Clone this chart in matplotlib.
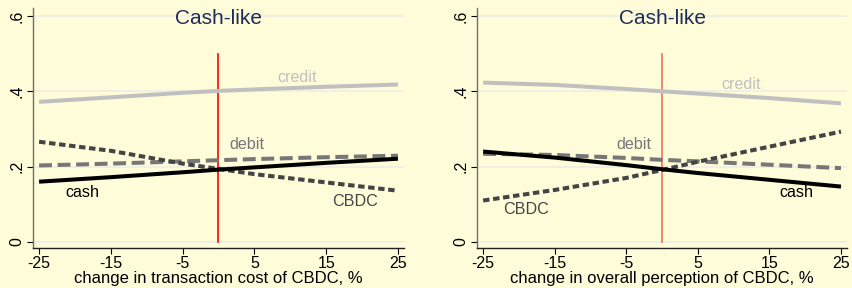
import matplotlib.pyplot as plt

plt.rcParams['font.family'] = ['Liberation Sans', 'DejaVu Sans']
plt.rcParams['axes.unicode_minus'] = False

# x grid (change in %, both panels)
x = [-25, -15, -5, 0, 5, 15, 25]

# left panel: change in transaction cost of CBDC
cost_cash = [0.160, 0.172, 0.185, 0.192, 0.198, 0.210, 0.221]
cost_credit = [0.372, 0.384, 0.396, 0.401, 0.405, 0.412, 0.418]
cost_debit = [0.203, 0.208, 0.214, 0.217, 0.220, 0.225, 0.229]
cost_cbdc = [0.266, 0.242, 0.208, 0.194, 0.180, 0.158, 0.136]

# right panel: change in overall perception of CBDC
perc_cash = [0.240, 0.224, 0.204, 0.193, 0.183, 0.165, 0.147]
perc_credit = [0.423, 0.417, 0.406, 0.400, 0.394, 0.382, 0.368]
perc_debit = [0.234, 0.231, 0.223, 0.218, 0.214, 0.205, 0.196]
perc_cbdc = [0.110, 0.138, 0.170, 0.191, 0.213, 0.253, 0.293]

xticks = [-25, -15, -5, 5, 15, 25]
yticks = [0, 0.2, 0.4, 0.6]
ytick_labels = ['0', '.2', '.4', '.6']

bg = '#FFFCD9'
fig = plt.figure(figsize=(8.52, 2.88), dpi=100, facecolor=bg)

panels = [
    dict(rect=[0.0387, 0.139, 0.4355, 0.833], cash=cost_cash, credit=cost_credit,
         debit=cost_debit, cbdc=cost_cbdc, vcolor='#FF0000',
         xlabel='change in transaction cost of CBDC, %',
         labels={'credit': (11, 0.436), 'debit': (4, 0.258), 'cash': (-19, 0.13), 'CBDC': (19, 0.107)}),
    dict(rect=[0.5599, 0.139, 0.4343, 0.833], cash=perc_cash, credit=perc_credit,
         debit=perc_debit, cbdc=perc_cbdc, vcolor='#F07060',
         xlabel='change in overall perception of CBDC, %',
         labels={'credit': (11, 0.418), 'debit': (-4, 0.258), 'cash': (18.7, 0.13), 'CBDC': (-19, 0.086)}),
]

colors = {'cash': 'black', 'credit': '#C0C0C0', 'debit': '#777777', 'CBDC': '#444444'}

for p in panels:
    ax = fig.add_axes(p['rect'])
    ax.set_facecolor(bg)
    for yv in yticks:
        ax.axhline(yv, color='#EEEEE4', lw=1.2, zorder=0)
    ax.plot([0, 0], [0, 0.5], color=p['vcolor'], lw=1.2, zorder=1)
    ax.plot(x, p['credit'], color=colors['credit'], lw=2.9, solid_capstyle='butt', zorder=2)
    ax.plot(x, p['debit'], color=colors['debit'], lw=2.9, dashes=(3.2, 1.4), zorder=2)
    ax.plot(x, p['cbdc'], color=colors['CBDC'], lw=2.9, dashes=(1.6, 0.9), zorder=3)
    ax.plot(x, p['cash'], color=colors['cash'], lw=2.9, solid_capstyle='butt', zorder=4)

    for name, (lx, ly) in p['labels'].items():
        ax.text(lx, ly, name, color=colors[name], fontsize=11.6, ha='center', va='center')

    ax.text(0.5, 0.955, 'Cash-like', transform=ax.transAxes, ha='center', va='center',
            fontsize=15, color='#1E2D58')

    ax.set_xlim(-25.85, 25.85)
    ax.set_ylim(-0.016, 0.621)
    ax.set_xticks(xticks)
    ax.set_yticks(yticks)
    ax.set_yticklabels(ytick_labels, rotation=90, va='center')
    ax.tick_params(axis='both', labelsize=11.5, length=4, width=0.8, direction='out', pad=2)
    ax.set_xlabel(p['xlabel'], fontsize=12, labelpad=0)
    for s in ['top', 'right']:
        ax.spines[s].set_visible(False)
    ax.spines['left'].set_color('#707068')
    ax.spines['left'].set_linewidth(1.0)
    ax.spines['bottom'].set_color('#222222')
    ax.spines['bottom'].set_linewidth(1.0)

fig.savefig('out.png', dpi=100, facecolor=bg)
